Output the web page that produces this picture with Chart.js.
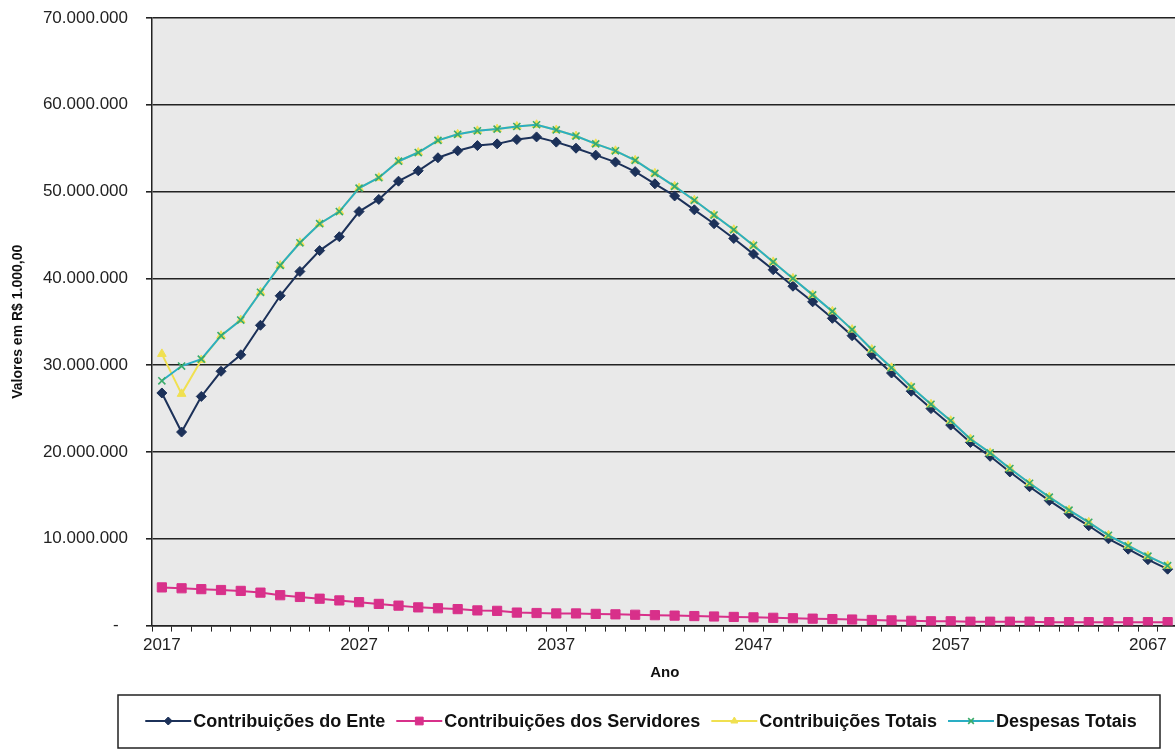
<!DOCTYPE html>
<html>
<head>
<meta charset="utf-8">
<script src="https://cdn.jsdelivr.net/npm/chart.js@4.4.1/dist/chart.umd.min.js"></script>
<style>
html, body { margin: 0; padding: 0; background: #fff; overflow: hidden; }
</style>
</head>
<body>
<canvas id="myChart" width="1185" height="751"></canvas>
<script>
// Anos da projeção (eixo X)
const anos = [2017, 2018, 2019, 2020, 2021, 2022, 2023, 2024, 2025, 2026,
              2027, 2028, 2029, 2030, 2031, 2032, 2033, 2034, 2035, 2036,
              2037, 2038, 2039, 2040, 2041, 2042, 2043, 2044, 2045, 2046,
              2047, 2048, 2049, 2050, 2051, 2052, 2053, 2054, 2055, 2056,
              2057, 2058, 2059, 2060, 2061, 2062, 2063, 2064, 2065, 2066,
              2067, 2068];

// Valores em milhões (de R$ 1.000,00)
const contribEnte = [26.8, 22.3, 26.4, 29.3, 31.2, 34.6, 38.0, 40.8, 43.2, 44.8,
                     47.7, 49.1, 51.2, 52.4, 53.9, 54.7, 55.3, 55.5, 56.0, 56.3,
                     55.7, 55.0, 54.2, 53.4, 52.3, 50.9, 49.5, 47.9, 46.3, 44.6,
                     42.8, 41.0, 39.1, 37.3, 35.4, 33.4, 31.2, 29.1, 27.0, 25.0,
                     23.1, 21.1, 19.5, 17.7, 16.0, 14.4, 12.9, 11.5, 10.0, 8.8,
                     7.6, 6.5];
const contribServidores = [4.4, 4.3, 4.2, 4.1, 4.0, 3.8, 3.5, 3.3, 3.1, 2.9,
                           2.7, 2.5, 2.3, 2.1, 2.0, 1.9, 1.75, 1.7, 1.5, 1.45,
                           1.4, 1.4, 1.35, 1.3, 1.25, 1.2, 1.15, 1.1, 1.05, 1.0,
                           0.95, 0.9, 0.85, 0.8, 0.75, 0.7, 0.65, 0.6, 0.55, 0.5,
                           0.5, 0.45, 0.45, 0.45, 0.45, 0.4, 0.4, 0.4, 0.4, 0.4,
                           0.4, 0.4];
const contribTotais = [31.3, 26.7, 30.6, 33.4, 35.2, 38.4, 41.5, 44.1, 46.3, 47.7,
                       50.4, 51.6, 53.5, 54.5, 55.9, 56.6, 57.0, 57.2, 57.5, 57.7,
                       57.1, 56.4, 55.5, 54.7, 53.6, 52.1, 50.6, 49.0, 47.3, 45.6,
                       43.8, 41.9, 40.0, 38.1, 36.2, 34.1, 31.8, 29.7, 27.5, 25.5,
                       23.6, 21.5, 19.9, 18.1, 16.4, 14.8, 13.3, 11.9, 10.4, 9.2,
                       8.0, 6.9];
const despesasTotais = [28.2, 29.9, 30.7, 33.4, 35.2, 38.4, 41.5, 44.1, 46.3, 47.7,
                        50.4, 51.6, 53.5, 54.5, 55.9, 56.6, 57.0, 57.2, 57.5, 57.7,
                        57.1, 56.4, 55.5, 54.7, 53.6, 52.1, 50.6, 49.0, 47.3, 45.6,
                        43.8, 41.9, 40.0, 38.1, 36.2, 34.1, 31.8, 29.7, 27.5, 25.5,
                        23.6, 21.5, 19.9, 18.1, 16.4, 14.8, 13.3, 11.9, 10.4, 9.2,
                        8.0, 6.9];

const MILHAO = 1000000;
const FONTE = "'Liberation Sans', Arial, sans-serif";

function emReais(lista) {
    return lista.map(v => v * MILHAO);
}

function formataMilhar(v) {
    if (v === 0) return '-  ';
    return String(v).replace(/\B(?=(\d{3})+(?!\d))/g, '.');
}

// fundo cinza da área do gráfico
const fundoPlot = {
    id: 'fundoPlot',
    beforeDraw(chart) {
        const a = chart.chartArea;
        const ctx = chart.ctx;
        ctx.save();
        ctx.fillStyle = '#e9e9e9';
        ctx.fillRect(a.left, a.top, a.right - a.left, a.bottom - a.top);
        ctx.restore();
    }
};

// legenda com caixa, no estilo do Excel
const legendaCaixa = {
    id: 'legendaCaixa',
    afterDraw(chart) {
        const ctx = chart.ctx;
        const ds = chart.data.datasets;
        const y = 721;
        ctx.save();
        ctx.fillStyle = '#fff';
        ctx.fillRect(118, 695, 1042, 53);
        ctx.strokeStyle = '#222';
        ctx.lineWidth = 1.5;
        ctx.strokeRect(118, 695, 1042, 53);

        ctx.font = 'bold 18px ' + FONTE;
        const linha = 46, gap = 2, espaco = 11;
        let total = 0;
        ds.forEach(d => { total += linha + gap + ctx.measureText(d.label).width + espaco; });
        total -= espaco;
        let x = 641 - total / 2;

        ds.forEach(d => {
            ctx.strokeStyle = d.borderColor;
            ctx.lineWidth = 2;
            ctx.beginPath();
            ctx.moveTo(x, y);
            ctx.lineTo(x + linha, y);
            ctx.stroke();
            ctx.fillStyle = d.pointBackgroundColor;
            ctx.strokeStyle = d.pointBorderColor;
            ctx.lineWidth = d.pointBorderWidth;
            Chart.helpers.drawPoint(ctx, {
                pointStyle: d.pointStyle,
                radius: d.pointRadius - 1,
                rotation: 0,
                borderWidth: d.pointBorderWidth
            }, x + linha / 2, y);
            x += linha + gap;
            ctx.fillStyle = '#111';
            ctx.textBaseline = 'middle';
            ctx.textAlign = 'left';
            ctx.fillText(d.label, x, y + 1);
            x += ctx.measureText(d.label).width + espaco;
        });
        ctx.restore();
    }
};

const ctx = document.getElementById('myChart').getContext('2d');

window.myChart = new Chart(ctx, {
    type: 'line',
    data: {
        labels: anos,
        datasets: [
            {
                label: 'Contribuições do Ente',
                data: emReais(contribEnte),
                borderColor: '#1c3159',
                borderWidth: 2,
                pointStyle: 'rectRot',
                pointRadius: 5,
                pointBackgroundColor: '#1c3159',
                pointBorderColor: '#1c3159',
                pointBorderWidth: 1,
                order: 3
            },
            {
                label: 'Contribuições dos Servidores',
                data: emReais(contribServidores),
                borderColor: '#d8308a',
                borderWidth: 2,
                pointStyle: 'rect',
                pointRadius: 6.5,
                pointBackgroundColor: '#d8308a',
                pointBorderColor: '#d8308a',
                pointBorderWidth: 1,
                order: 2
            },
            {
                label: 'Contribuições Totais',
                data: emReais(contribTotais),
                borderColor: '#f0e050',
                borderWidth: 2,
                pointStyle: 'triangle',
                pointRadius: 5,
                pointBackgroundColor: '#f0e050',
                pointBorderColor: '#f0e050',
                pointBorderWidth: 1,
                order: 1
            },
            {
                label: 'Despesas Totais',
                data: emReais(despesasTotais),
                borderColor: '#2aaec4',
                borderWidth: 2,
                pointStyle: 'crossRot',
                pointRadius: 5,
                pointBackgroundColor: '#3aab6a',
                pointBorderColor: '#3aab6a',
                pointBorderWidth: 1.6,
                order: 0
            }
        ]
    },
    options: {
        responsive: false,
        animation: false,
        events: [],
        layout: { padding: { top: 18, right: 0, bottom: 69, left: 0 } },
        plugins: {
            legend: { display: false },
            tooltip: { enabled: false }
        },
        scales: {
            x: {
                offset: true,
                afterFit: s => { s.paddingLeft = 0; s.paddingRight = 0; },
                grid: {
                    offset: true,
                    drawOnChartArea: false,
                    drawTicks: true,
                    tickLength: 6,
                    color: '#222',
                    lineWidth: 1
                },
                border: { display: true, color: '#222', width: 1.5 },
                ticks: {
                    autoSkip: false,
                    maxRotation: 0,
                    padding: 4,
                    color: '#222',
                    font: { family: FONTE, size: 17 },
                    callback: (v, i) => (i % 10 === 0 ? anos[i] : '')
                },
                title: {
                    display: true,
                    text: 'Ano',
                    color: '#111',
                    font: { family: FONTE, size: 15, weight: 'bold' },
                    padding: { top: 4, bottom: 0 }
                }
            },
            y: {
                min: 0,
                max: 70000000,
                afterFit: s => { s.width = 152; s.paddingTop = 0; s.paddingBottom = 0; },
                grid: {
                    color: '#222',
                    lineWidth: 1.6,
                    drawTicks: true,
                    tickLength: 6
                },
                border: { display: true, color: '#222', width: 1.5 },
                ticks: {
                    stepSize: 10000000,
                    padding: 18,
                    color: '#222',
                    font: { family: FONTE, size: 17 },
                    callback: v => formataMilhar(v)
                },
                title: {
                    display: true,
                    text: 'Valores em R$ 1.000,00',
                    color: '#111',
                    font: { family: FONTE, size: 14, weight: 'bold' },
                    padding: { top: 10, bottom: 0 }
                }
            }
        }
    },
    plugins: [fundoPlot, legendaCaixa]
});
</script>
</body>
</html>
